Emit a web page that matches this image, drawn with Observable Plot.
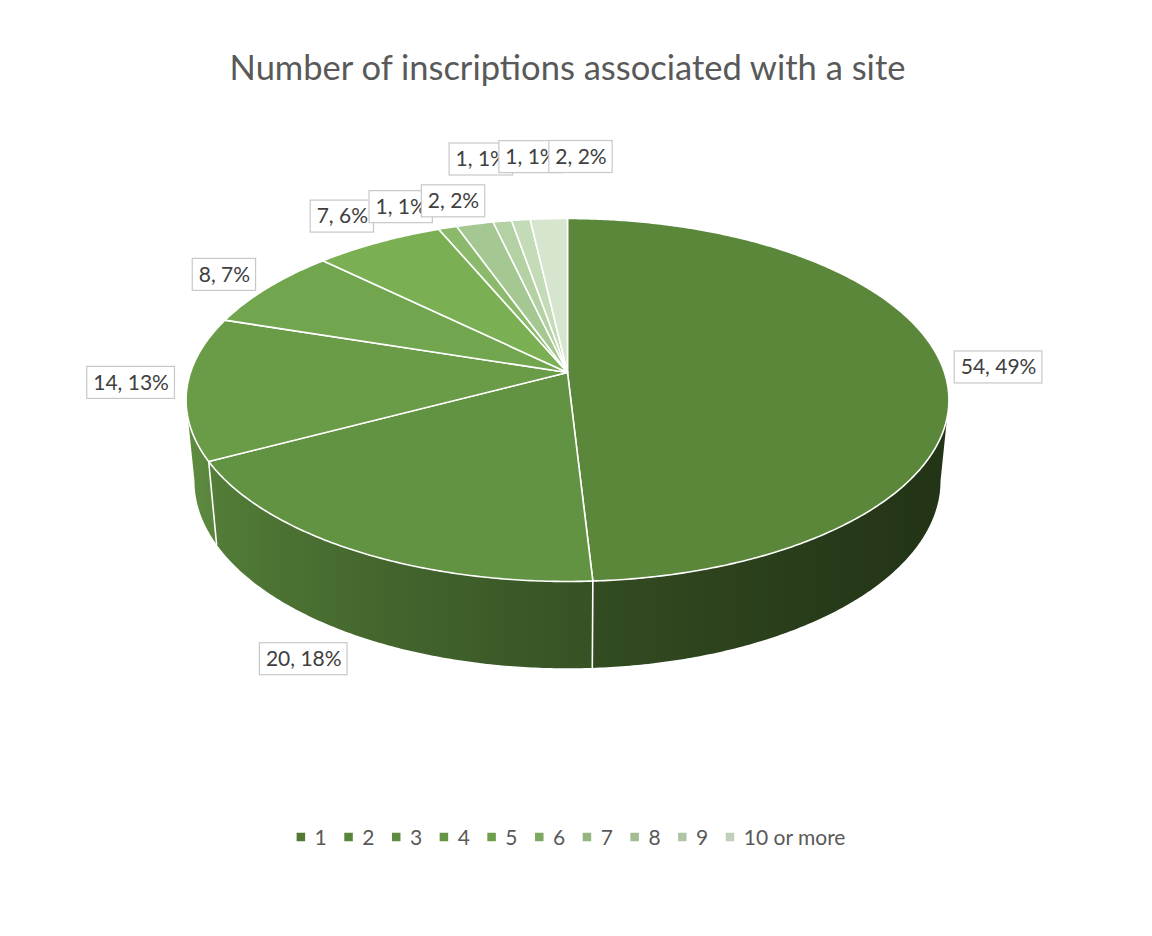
<!DOCTYPE html>
<html>
<head>
<meta charset="utf-8">
<script src="https://cdn.jsdelivr.net/npm/d3@7"></script>
<script src="https://cdn.jsdelivr.net/npm/@observablehq/plot@0.6"></script>
<style>
  html, body { margin: 0; padding: 0; background: #ffffff; }
  #chart svg { display: block; }
</style>
</head>
<body>
<div id="chart"></div>
<script>
// ---------------- data ----------------
const categories = ["1", "2", "3", "4", "5", "6", "7", "8", "9", "10 or more"];
const counts = [54, 20, 14, 8, 7, 1, 2, 1, 1, 2];
const title = "Number of inscriptions associated with a site";

// ---------------- style ----------------
const palette = ["#5b873b", "#629342", "#6a9c48", "#72a64e", "#7ab053",
                 "#8cba6c", "#a5c893", "#b4d1a4", "#c4dbb8", "#d6e5cd"];
const FONT = "Lato";
const W = 1152, H = 936;

// ---------------- text measuring ----------------
const ctx = document.createElement("canvas").getContext("2d");
function textWidth(s, size) { ctx.font = `${size}px ${FONT}`; return ctx.measureText(s).width; }

// ---------------- 3D pie projection ----------------
const cx = 567, cy = 372, sx = 377, sy = 177.3, persp = 0.1515, depth = 80, shrink = 0.978;
function P(theta, r = 1, z = 0) {            // theta: radians clockwise from 12 o'clock
  const X = r * Math.sin(theta), Y = r * Math.cos(theta);
  const w = 1 + persp * Y;
  let x = cx + sx * X / w, y = cy - sy * Y / w;
  if (z) { x = cx + (x - cx) * (1 - (1 - shrink) * z); y += z * depth / Math.sqrt(w); }
  return [x, y];
}
const deg = Math.PI / 180;
const total = d3.sum(counts);
const arcs = d3.pie().sort(null).value(d => d)(counts);

// top face slices
const topPts = [];
arcs.forEach((a, i) => {
  const n = Math.max(2, Math.ceil((a.endAngle - a.startAngle) / (0.5 * deg)));
  topPts.push({id: i, x: cx, y: cy, color: palette[i]});
  for (let j = 0; j <= n; j++) {
    const t = a.startAngle + (a.endAngle - a.startAngle) * j / n;
    const [x, y] = P(t);
    topPts.push({id: i, x, y, color: palette[i]});
  }
});

// side wall (visible front part), one polygon per slice, shaded by a horizontal gradient
function shade(theta) { return 0.33 + 0.28 * Math.sin(theta - 20 * deg); }
const sidePts = [];
const gradients = [];
const lo = Math.acos(-persp), hi = 2 * Math.PI - lo;   // silhouette angles
arcs.forEach((a, i) => {
  const s0 = Math.max(a.startAngle, lo), s1 = Math.min(a.endAngle, hi);
  if (s1 <= s0) return;
  const n = Math.max(2, Math.ceil((s1 - s0) / (0.5 * deg)));
  const fill = `url(#side${i})`;
  for (let j = 0; j <= n; j++) {
    const [x, y] = P(s0 + (s1 - s0) * j / n);
    sidePts.push({id: i, x, y, color: fill});
  }
  for (let j = n; j >= 0; j--) {
    const [x, y] = P(s0 + (s1 - s0) * j / n, 1, 1);
    sidePts.push({id: i, x, y, color: fill});
  }
  const xl = P(s1)[0], xr = P(s0)[0];
  const stops = d3.range(0, 21).map(m => {
    const t = s1 - (s1 - s0) * m / 20;
    return {offset: (P(t)[0] - xl) / (xr - xl), color: d3.interpolateRgb(palette[i], "#000000")(shade(t))};
  });
  gradients.push({id: `side${i}`, x1: xl, x2: xr, stops});
});

// white edges between slices on the side wall
const edgePts = [];
arcs.forEach((a, i) => {
  const b = a.startAngle;
  if (Math.cos(b) < -persp) {
    const [x0, y0] = P(b), [x1, y1] = P(b, 1, 1);
    edgePts.push({id: i, x: x0, y: y0}, {id: i, x: x1, y: y1});
  }
});

// ---------------- data labels ----------------
const labelSize = 21;
const labels = arcs.map((a, i) => {
  const text = `${counts[i]}, ${Math.round(100 * counts[i] / total)}%`;
  return {i, text, mid: (a.startAngle + a.endAngle) / 2, w: textWidth(text, labelSize) + 12, h: 32};
});
// spread crowded label angles
const minSep = 7 * deg;
let clusters = labels.map((L, i) => ({idx: [i], center: L.mid}));
let changed = true;
while (changed) {
  changed = false;
  for (let j = 1; j < clusters.length; j++) {
    const A = clusters[j - 1], B = clusters[j];
    const aEnd = A.center + (A.idx.length - 1) / 2 * minSep;
    const bStart = B.center - (B.idx.length - 1) / 2 * minSep;
    if (bStart - aEnd < minSep) {
      const idx = A.idx.concat(B.idx);
      clusters.splice(j - 1, 2, {idx, center: d3.mean(idx, k => labels[k].mid)});
      changed = true; break;
    }
  }
}
clusters.forEach(c => c.idx.forEach((k, m) => {
  labels[k].theta = c.center + (m - (c.idx.length - 1) / 2) * minSep;
}));
const clamp = (v, a = -1, b = 1) => Math.max(a, Math.min(b, v));
function boxAt(L, level) {
  const th = L.theta, s = Math.sin(th), c = Math.cos(th);
  const front = c < -persp;
  const [ax, ay] = P(th, 1 + 0.3 * level, front ? 1 : 0);
  let fx, fy;
  if (front) {
    fx = clamp(2 * s);
    fy = clamp(1.5 * c);
  } else {
    fx = Math.sign(s) * clamp((Math.abs(s) - 0.28) * 2.9, 0, 1);
    fy = clamp((c - 0.35) * 2.2, 0, 1);
  }
  const x = ax + fx * (L.w / 2 + 12);
  const y = ay - fy * (L.h / 2 + 7) - (front ? 0 : 5 * Math.max(0, -s));
  return {text: L.text, x, y, x1: x - L.w / 2, x2: x + L.w / 2, y1: y - L.h / 2, y2: y + L.h / 2};
}
const placed = [];
let prevLevel = 0;
labels.forEach(L => {
  let chosen = null;
  for (let level = prevLevel; level < prevLevel + 4; level++) {
    const b = boxAt(L, level);
    const clash = placed.some(p =>
      Math.min(b.x2, p.x2) - Math.max(b.x1, p.x1) > 14 &&
      Math.min(b.y2, p.y2) - Math.max(b.y1, p.y1) > 4);
    if (!clash) { chosen = b; prevLevel = level; break; }
  }
  placed.push(chosen || boxAt(L, prevLevel));
});
const labelMarks = placed.flatMap(b => [
  Plot.rect([b], {x1: "x1", x2: "x2", y1: "y1", y2: "y2", fill: "white", stroke: "#c8c8c8", strokeWidth: 1.2}),
  Plot.text([b], {x: "x", y: "y", text: "text", fill: "#404040", fontSize: labelSize, fontFamily: FONT})
]);

// ---------------- legend ----------------
const legendSize = 21;
const sq = 8.5, gapText = 9, gapItem = 18, legendY = 837, legendCenter = 571;
const itemW = categories.map(c => sq + gapText + textWidth(c, legendSize));
const legendTotal = d3.sum(itemW) + gapItem * (categories.length - 1);
let lx = legendCenter - legendTotal / 2;
const legendItems = categories.map((c, i) => {
  const it = {label: c, color: d3.interpolateRgb(palette[i], "#000")(0.1), x1: lx, x2: lx + sq,
              y1: legendY - sq / 2, y2: legendY + sq / 2, tx: lx + sq + gapText};
  lx += itemW[i] + gapItem;
  return it;
});

// ---------------- title ----------------
const titleSize = Math.round(30 * 677 / textWidth(title, 30) * 10) / 10;

const chart = Plot.plot({
  width: W, height: H,
  margin: 0,
  x: {domain: [0, W], range: [0, W], axis: null},
  y: {domain: [0, H], range: [0, H], axis: null},
  color: {type: "identity"},
  style: {background: "white"},
  marks: [
    Plot.line(sidePts, {x: "x", y: "y", z: "id", fill: "color", stroke: "none", curve: "linear-closed"}),
    Plot.line(edgePts, {x: "x", y: "y", z: "id", stroke: "white", strokeWidth: 1.6}),
    Plot.line(topPts, {x: "x", y: "y", z: "id", fill: "color", stroke: "white", strokeWidth: 1.6, curve: "linear-closed"}),
    ...labelMarks,
    Plot.text([title], {x: () => cx, y: () => 68, text: d => d, fill: "#595959", fontSize: titleSize, fontFamily: FONT}),
    Plot.rect(legendItems, {x1: "x1", x2: "x2", y1: "y1", y2: "y2", fill: "color"}),
    Plot.text(legendItems, {x: "tx", y: () => legendY + 1, text: "label", textAnchor: "start", fill: "#595959", fontSize: legendSize, fontFamily: FONT})
  ]
});

// gradient definitions used by the side-wall fills
const defs = d3.select(chart).insert("defs", ":first-child");
gradients.forEach(g => {
  const lg = defs.append("linearGradient").attr("id", g.id)
    .attr("gradientUnits", "userSpaceOnUse")
    .attr("x1", g.x1).attr("x2", g.x2).attr("y1", 0).attr("y2", 0);
  g.stops.forEach(s => lg.append("stop").attr("offset", s.offset).attr("stop-color", s.color));
});
document.getElementById("chart").appendChild(chart);
</script>
</body>
</html>
